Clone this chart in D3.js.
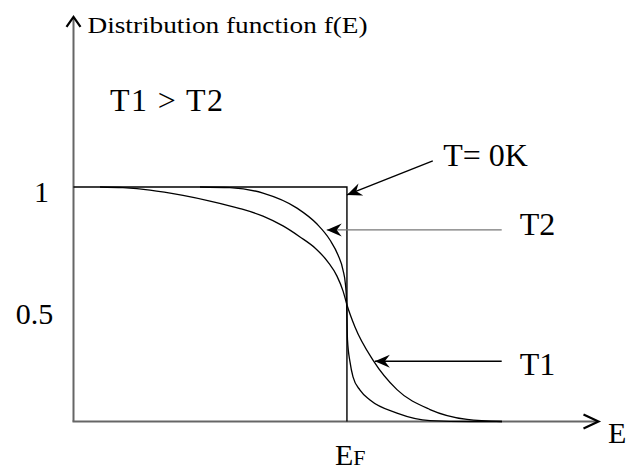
<!DOCTYPE html>
<html>
<head>
<meta charset="utf-8">
<script src="https://cdn.jsdelivr.net/npm/d3@7"></script>
<style>
  html, body { margin: 0; padding: 0; background: #fff; }
  svg { display: block; }
</style>
</head>
<body>
<svg id="chart" width="627" height="470"></svg>
<script>
// Fermi level and the T = 0 K step
const fermiEnergy = 5.0;
const energy0K = [0, fermiEnergy, fermiEnergy];
const f0K = [1, 1, 0];

// Higher temperature T1 (broader tail)
const energyT1 = [0.485, 0.905, 1.399, 2.002, 2.496, 3.045, 3.465, 3.831, 4.142, 4.416, 4.654, 4.818, 4.928, 5.001, 5.147, 5.476, 5.915, 6.519, 7.196, 7.835];
const fT1      = [1.000, 0.997, 0.987, 0.964, 0.940, 0.908, 0.876, 0.834, 0.787, 0.740, 0.680, 0.620, 0.557, 0.497, 0.403, 0.262, 0.136, 0.051, 0.009, 0.000];

// Lower temperature T2 (sharper edge)
const energyT2 = [2.313, 2.862, 3.465, 4.087, 4.453, 4.690, 4.837, 4.928, 4.974, 4.992, 5.001, 5.010, 5.056, 5.111, 5.239, 5.422, 5.915, 6.519, 7.250, 7.835];
const fT2      = [1.000, 0.997, 0.974, 0.910, 0.842, 0.774, 0.710, 0.646, 0.582, 0.518, 0.433, 0.348, 0.254, 0.190, 0.134, 0.092, 0.036, 0.004, 0.000, 0.000];

// Axis labels
const yTickValues = [0.5, 1];
const yTickLabels = ["0.5", "1"];
const yAxisTitle = "Distribution function f(E)";
const xAxisTitle = "E";
const fermiLabel = ["E", "F"];
const tempRelation = "T1 > T2";

// Arrow callouts: label, tail (E, f), tip (E, f), text anchor (E, f)
const calloutLabels = ["T= 0K", "T2", "T1"];
const calloutTail = [[6.57, 1.111], [7.83, 0.817], [7.83, 0.257]];
const calloutTip  = [[5.00, 0.966], [4.63, 0.817], [5.51, 0.257]];
const calloutText = [[6.76, 1.088], [8.16, 0.795], [8.16, 0.199]];

const serif = "'Liberation Serif', 'Times New Roman', Times, serif";

const svg = d3.select("#chart");

const x = d3.scaleLinear().domain([0, 9.6]).range([73.5, 598.5]);
const y = d3.scaleLinear().domain([0, 1]).range([421.5, 187]);
const yTop = 1.725;

const zip = (xs, ys) => xs.map((v, i) => [v, ys[i]]);
const line = d3.line().x(d => x(d[0])).y(d => y(d[1]));
const smooth = d3.line().x(d => x(d[0])).y(d => y(d[1])).curve(d3.curveMonotoneX);

function label(px, py, size, str) {
  return svg.append("text")
    .attr("x", px).attr("y", py)
    .attr("font-family", serif)
    .attr("font-size", size)
    .attr("fill", "#000")
    .text(str);
}

// Axes
const axisColor = "#666";
svg.append("line")
  .attr("x1", x(0)).attr("y1", y(0)).attr("x2", x(0)).attr("y2", y(yTop) + 1)
  .attr("stroke", axisColor).attr("stroke-width", 2);
svg.append("line")
  .attr("x1", x(0) - 1).attr("y1", y(0)).attr("x2", x(9.6) - 1).attr("y2", y(0))
  .attr("stroke", axisColor).attr("stroke-width", 2);

// Axis arrowheads
svg.append("path")
  .attr("d", `M${x(0) - 7},${y(yTop) + 10} L${x(0)},${y(yTop)} L${x(0) + 7},${y(yTop) + 10}`)
  .attr("fill", "none").attr("stroke", "#000").attr("stroke-width", 2.2);
svg.append("path")
  .attr("d", `M${x(9.6) - 15},${y(0) - 7} L${x(9.6)},${y(0)} L${x(9.6) - 15},${y(0) + 7}`)
  .attr("fill", "none").attr("stroke", "#000").attr("stroke-width", 2.2);

// Y tick labels (no tick marks)
const yAxis = svg.append("g")
  .attr("transform", `translate(${x(0)},0)`)
  .call(d3.axisLeft(y).tickValues(yTickValues).tickSize(0).tickFormat((d, i) => yTickLabels[i]));
yAxis.attr("font-family", serif).attr("font-size", 30);
yAxis.select(".domain").remove();
yAxis.selectAll("text")
  .attr("fill", "#000")
  .attr("text-anchor", "middle")
  .attr("x", d => d === 1 ? -32 : -39)
  .attr("dy", d => d === 1 ? 14 : 19);

// T = 0 K step
svg.append("path")
  .attr("d", line(zip(energy0K, f0K)))
  .attr("fill", "none").attr("stroke", "#000").attr("stroke-width", 1.4);

// Finite-temperature curves
[[energyT1, fT1], [energyT2, fT2]].forEach(([e, f]) => {
  svg.append("path")
    .attr("d", smooth(zip(e, f)))
    .attr("fill", "none").attr("stroke", "#000").attr("stroke-width", 1.3);
});

// Callout arrows
function arrowHead(tip, tail) {
  const ang = Math.atan2(tail[1] - tip[1], tail[0] - tip[0]);
  const pt = (d, o) => [tip[0] + d * Math.cos(ang) - o * Math.sin(ang), tip[1] + d * Math.sin(ang) + o * Math.cos(ang)];
  const a = pt(15, -6.5), b = pt(10, 0), c = pt(15, 6.5);
  return `M${tip[0]},${tip[1]} L${a[0]},${a[1]} L${b[0]},${b[1]} L${c[0]},${c[1]} Z`;
}
const calloutColors = ["#000", "#777", "#000"];
calloutLabels.forEach((str, i) => {
  const tail = [x(calloutTail[i][0]), y(calloutTail[i][1])];
  const tip = [x(calloutTip[i][0]), y(calloutTip[i][1])];
  svg.append("line")
    .attr("x1", tail[0]).attr("y1", tail[1]).attr("x2", tip[0]).attr("y2", tip[1])
    .attr("stroke", calloutColors[i]).attr("stroke-width", 1.4);
  svg.append("path").attr("d", arrowHead(tip, tail)).attr("fill", "#000");
  label(x(calloutText[i][0]), y(calloutText[i][1]), 32, str);
});

// Titles
label(x(0) + 14, 33, 24, yAxisTitle)
  .attr("textLength", 280).attr("lengthAdjust", "spacingAndGlyphs");

label(608, 443, 30, xAxisTitle);

label(110, 111, 32, tempRelation)
  .attr("textLength", 113).attr("lengthAdjust", "spacing");

const ef = label(x(fermiEnergy) - 12, 465, 30, null);
ef.append("tspan").text(fermiLabel[0]);
ef.append("tspan").attr("font-size", 22).text(fermiLabel[1]);
</script>
</body>
</html>
